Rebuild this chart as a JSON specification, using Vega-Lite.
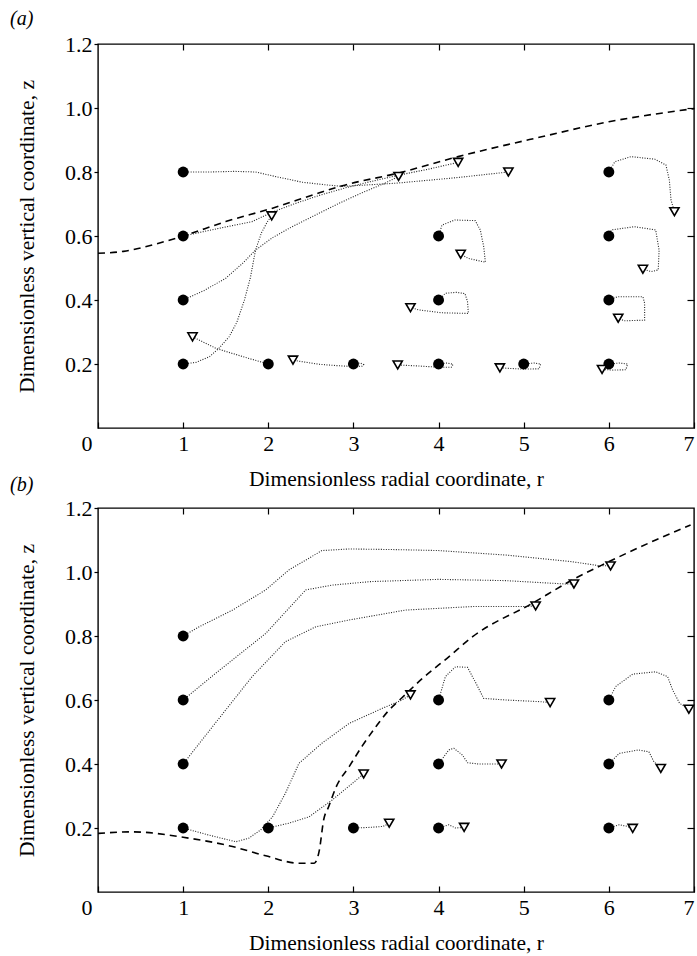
{
  "$schema": "https://vega.github.io/schema/vega-lite/v6.json",
  "padding": {"left": 9, "top": 8, "right": 0, "bottom": 0},
  "background": "white",
  "spacing": -17,
  "datasets": {
    "traj": [
      {"p":"a","id":"a1","i":0,"r":1,"z":0.8},{"p":"a","id":"a1","i":1,"r":1.3,"z":0.8},{"p":"a","id":"a1","i":2,"r":1.6,"z":0.802},{"p":"a","id":"a1","i":3,"r":1.85,"z":0.8},{"p":"a","id":"a1","i":4,"r":2.1,"z":0.785},{"p":"a","id":"a1","i":5,"r":2.4,"z":0.768},{"p":"a","id":"a1","i":6,"r":2.67,"z":0.76},{"p":"a","id":"a1","i":7,"r":2.87,"z":0.755},{"p":"a","id":"a1","i":8,"r":3.5,"z":0.765},{"p":"a","id":"a1","i":9,"r":4.2,"z":0.782},{"p":"a","id":"a1","i":10,"r":4.82,"z":0.8},
      {"p":"a","id":"a2","i":0,"r":1,"z":0.6},{"p":"a","id":"a2","i":1,"r":1.42,"z":0.624},{"p":"a","id":"a2","i":2,"r":1.81,"z":0.645},{"p":"a","id":"a2","i":3,"r":2.05,"z":0.675},{"p":"a","id":"a2","i":4,"r":2.3,"z":0.7},{"p":"a","id":"a2","i":5,"r":2.6,"z":0.727},{"p":"a","id":"a2","i":6,"r":2.9,"z":0.75},{"p":"a","id":"a2","i":7,"r":3.2,"z":0.77},{"p":"a","id":"a2","i":8,"r":3.53,"z":0.79},{"p":"a","id":"a2","i":9,"r":3.9,"z":0.81},{"p":"a","id":"a2","i":10,"r":4.23,"z":0.83},
      {"p":"a","id":"a3","i":0,"r":1,"z":0.4},{"p":"a","id":"a3","i":1,"r":1.25,"z":0.43},{"p":"a","id":"a3","i":2,"r":1.5,"z":0.468},{"p":"a","id":"a3","i":3,"r":1.7,"z":0.515},{"p":"a","id":"a3","i":4,"r":1.85,"z":0.556},{"p":"a","id":"a3","i":5,"r":2.05,"z":0.595},{"p":"a","id":"a3","i":6,"r":2.28,"z":0.629},{"p":"a","id":"a3","i":7,"r":2.55,"z":0.665},{"p":"a","id":"a3","i":8,"r":2.83,"z":0.702},{"p":"a","id":"a3","i":9,"r":3.1,"z":0.735},{"p":"a","id":"a3","i":10,"r":3.37,"z":0.765},{"p":"a","id":"a3","i":11,"r":3.53,"z":0.786},
      {"p":"a","id":"a4","i":0,"r":1,"z":0.2},{"p":"a","id":"a4","i":1,"r":1.15,"z":0.205},{"p":"a","id":"a4","i":2,"r":1.31,"z":0.223},{"p":"a","id":"a4","i":3,"r":1.42,"z":0.249},{"p":"a","id":"a4","i":4,"r":1.54,"z":0.285},{"p":"a","id":"a4","i":5,"r":1.63,"z":0.33},{"p":"a","id":"a4","i":6,"r":1.72,"z":0.4},{"p":"a","id":"a4","i":7,"r":1.79,"z":0.47},{"p":"a","id":"a4","i":8,"r":1.85,"z":0.556},{"p":"a","id":"a4","i":9,"r":1.92,"z":0.61},{"p":"a","id":"a4","i":10,"r":1.99,"z":0.645},{"p":"a","id":"a4","i":11,"r":2.04,"z":0.663},
      {"p":"a","id":"a5","i":0,"r":2,"z":0.2},{"p":"a","id":"a5","i":1,"r":1.7,"z":0.223},{"p":"a","id":"a5","i":2,"r":1.385,"z":0.249},{"p":"a","id":"a5","i":3,"r":1.11,"z":0.285},
      {"p":"a","id":"a6","i":0,"r":3,"z":0.2},{"p":"a","id":"a6","i":1,"r":3.08,"z":0.203},{"p":"a","id":"a6","i":2,"r":3.12,"z":0.198},{"p":"a","id":"a6","i":3,"r":3.1,"z":0.193},{"p":"a","id":"a6","i":4,"r":3.0,"z":0.192},{"p":"a","id":"a6","i":5,"r":2.8,"z":0.195},{"p":"a","id":"a6","i":6,"r":2.6,"z":0.199},{"p":"a","id":"a6","i":7,"r":2.45,"z":0.205},{"p":"a","id":"a6","i":8,"r":2.29,"z":0.212},
      {"p":"a","id":"a7","i":0,"r":4,"z":0.2},{"p":"a","id":"a7","i":1,"r":4.1,"z":0.203},{"p":"a","id":"a7","i":2,"r":4.17,"z":0.199},{"p":"a","id":"a7","i":3,"r":4.15,"z":0.19},{"p":"a","id":"a7","i":4,"r":4.0,"z":0.19},{"p":"a","id":"a7","i":5,"r":3.75,"z":0.194},{"p":"a","id":"a7","i":6,"r":3.52,"z":0.197},
      {"p":"a","id":"a8","i":0,"r":5,"z":0.2},{"p":"a","id":"a8","i":1,"r":5.12,"z":0.203},{"p":"a","id":"a8","i":2,"r":5.2,"z":0.2},{"p":"a","id":"a8","i":3,"r":5.18,"z":0.185},{"p":"a","id":"a8","i":4,"r":5.0,"z":0.184},{"p":"a","id":"a8","i":5,"r":4.85,"z":0.186},{"p":"a","id":"a8","i":6,"r":4.72,"z":0.188},
      {"p":"a","id":"a9","i":0,"r":6,"z":0.2},{"p":"a","id":"a9","i":1,"r":6.12,"z":0.203},{"p":"a","id":"a9","i":2,"r":6.22,"z":0.2},{"p":"a","id":"a9","i":3,"r":6.2,"z":0.182},{"p":"a","id":"a9","i":4,"r":6.05,"z":0.181},{"p":"a","id":"a9","i":5,"r":5.92,"z":0.183},
      {"p":"a","id":"a10","i":0,"r":4,"z":0.4},{"p":"a","id":"a10","i":1,"r":4.08,"z":0.421},{"p":"a","id":"a10","i":2,"r":4.21,"z":0.424},{"p":"a","id":"a10","i":3,"r":4.31,"z":0.42},{"p":"a","id":"a10","i":4,"r":4.34,"z":0.395},{"p":"a","id":"a10","i":5,"r":4.35,"z":0.358},{"p":"a","id":"a10","i":6,"r":4.2,"z":0.359},{"p":"a","id":"a10","i":7,"r":4.04,"z":0.36},{"p":"a","id":"a10","i":8,"r":3.77,"z":0.369},{"p":"a","id":"a10","i":9,"r":3.67,"z":0.376},
      {"p":"a","id":"a11","i":0,"r":6,"z":0.4},{"p":"a","id":"a11","i":1,"r":6.1,"z":0.41},{"p":"a","id":"a11","i":2,"r":6.25,"z":0.41},{"p":"a","id":"a11","i":3,"r":6.4,"z":0.41},{"p":"a","id":"a11","i":4,"r":6.42,"z":0.39},{"p":"a","id":"a11","i":5,"r":6.42,"z":0.337},{"p":"a","id":"a11","i":6,"r":6.18,"z":0.335},{"p":"a","id":"a11","i":7,"r":6.11,"z":0.343},
      {"p":"a","id":"a12","i":0,"r":4,"z":0.6},{"p":"a","id":"a12","i":1,"r":4.04,"z":0.634},{"p":"a","id":"a12","i":2,"r":4.19,"z":0.65},{"p":"a","id":"a12","i":3,"r":4.43,"z":0.648},{"p":"a","id":"a12","i":4,"r":4.49,"z":0.619},{"p":"a","id":"a12","i":5,"r":4.53,"z":0.567},{"p":"a","id":"a12","i":6,"r":4.55,"z":0.518},{"p":"a","id":"a12","i":7,"r":4.35,"z":0.53},{"p":"a","id":"a12","i":8,"r":4.26,"z":0.543},
      {"p":"a","id":"a13","i":0,"r":6,"z":0.6},{"p":"a","id":"a13","i":1,"r":6.03,"z":0.619},{"p":"a","id":"a13","i":2,"r":6.3,"z":0.629},{"p":"a","id":"a13","i":3,"r":6.55,"z":0.619},{"p":"a","id":"a13","i":4,"r":6.59,"z":0.556},{"p":"a","id":"a13","i":5,"r":6.58,"z":0.494},{"p":"a","id":"a13","i":6,"r":6.5,"z":0.489},{"p":"a","id":"a13","i":7,"r":6.4,"z":0.496},
      {"p":"a","id":"a14","i":0,"r":6,"z":0.8},{"p":"a","id":"a14","i":1,"r":6.07,"z":0.832},{"p":"a","id":"a14","i":2,"r":6.26,"z":0.848},{"p":"a","id":"a14","i":3,"r":6.54,"z":0.84},{"p":"a","id":"a14","i":4,"r":6.67,"z":0.822},{"p":"a","id":"a14","i":5,"r":6.71,"z":0.775},{"p":"a","id":"a14","i":6,"r":6.73,"z":0.7125},{"p":"a","id":"a14","i":7,"r":6.77,"z":0.676},
      {"p":"b","id":"b1","i":0,"r":1,"z":0.8},{"p":"b","id":"b1","i":1,"r":1.19,"z":0.829},{"p":"b","id":"b1","i":2,"r":1.58,"z":0.881},{"p":"b","id":"b1","i":3,"r":1.97,"z":0.944},{"p":"b","id":"b1","i":4,"r":2.24,"z":1.006},{"p":"b","id":"b1","i":5,"r":2.63,"z":1.067},{"p":"b","id":"b1","i":6,"r":2.95,"z":1.072},{"p":"b","id":"b1","i":7,"r":3.5,"z":1.07},{"p":"b","id":"b1","i":8,"r":4.0,"z":1.067},{"p":"b","id":"b1","i":9,"r":4.79,"z":1.053},{"p":"b","id":"b1","i":10,"r":5.57,"z":1.032},{"p":"b","id":"b1","i":11,"r":5.88,"z":1.02},{"p":"b","id":"b1","i":12,"r":6.02,"z":1.019},
      {"p":"b","id":"b2","i":0,"r":1,"z":0.6},{"p":"b","id":"b2","i":1,"r":1.38,"z":0.683},{"p":"b","id":"b2","i":2,"r":1.97,"z":0.808},{"p":"b","id":"b2","i":3,"r":2.44,"z":0.944},{"p":"b","id":"b2","i":4,"r":2.75,"z":0.959},{"p":"b","id":"b2","i":5,"r":3.2,"z":0.97},{"p":"b","id":"b2","i":6,"r":4.0,"z":0.977},{"p":"b","id":"b2","i":7,"r":4.79,"z":0.973},{"p":"b","id":"b2","i":8,"r":5.49,"z":0.9625},{"p":"b","id":"b2","i":9,"r":5.59,"z":0.9625},
      {"p":"b","id":"b3","i":0,"r":1,"z":0.4},{"p":"b","id":"b3","i":1,"r":1.42,"z":0.542},{"p":"b","id":"b3","i":2,"r":1.81,"z":0.673},{"p":"b","id":"b3","i":3,"r":2.2,"z":0.782},{"p":"b","id":"b3","i":4,"r":2.56,"z":0.829},{"p":"b","id":"b3","i":5,"r":2.95,"z":0.85},{"p":"b","id":"b3","i":6,"r":3.61,"z":0.881},{"p":"b","id":"b3","i":7,"r":4.4,"z":0.892},{"p":"b","id":"b3","i":8,"r":5.02,"z":0.892},{"p":"b","id":"b3","i":9,"r":5.14,"z":0.894},
      {"p":"b","id":"b4","i":0,"r":1,"z":0.2},{"p":"b","id":"b4","i":1,"r":1.3,"z":0.178},{"p":"b","id":"b4","i":2,"r":1.62,"z":0.157},{"p":"b","id":"b4","i":3,"r":1.77,"z":0.168},{"p":"b","id":"b4","i":4,"r":1.91,"z":0.194},{"p":"b","id":"b4","i":5,"r":2.05,"z":0.235},{"p":"b","id":"b4","i":6,"r":2.2,"z":0.308},{"p":"b","id":"b4","i":7,"r":2.36,"z":0.402},{"p":"b","id":"b4","i":8,"r":2.63,"z":0.465},{"p":"b","id":"b4","i":9,"r":2.95,"z":0.527},{"p":"b","id":"b4","i":10,"r":3.34,"z":0.574},{"p":"b","id":"b4","i":11,"r":3.57,"z":0.6},{"p":"b","id":"b4","i":12,"r":3.67,"z":0.616},
      {"p":"b","id":"b5","i":0,"r":2,"z":0.2},{"p":"b","id":"b5","i":1,"r":2.24,"z":0.215},{"p":"b","id":"b5","i":2,"r":2.48,"z":0.235},{"p":"b","id":"b5","i":3,"r":2.75,"z":0.2875},{"p":"b","id":"b5","i":4,"r":2.99,"z":0.34},{"p":"b","id":"b5","i":5,"r":3.12,"z":0.369},
      {"p":"b","id":"b6","i":0,"r":3,"z":0.2},{"p":"b","id":"b6","i":1,"r":3.2,"z":0.202},{"p":"b","id":"b6","i":2,"r":3.35,"z":0.205},{"p":"b","id":"b6","i":3,"r":3.42,"z":0.215},
      {"p":"b","id":"b7","i":0,"r":4,"z":0.2},{"p":"b","id":"b7","i":1,"r":4.12,"z":0.21},{"p":"b","id":"b7","i":2,"r":4.2,"z":0.2},{"p":"b","id":"b7","i":3,"r":4.3,"z":0.202},
      {"p":"b","id":"b8","i":0,"r":6,"z":0.2},{"p":"b","id":"b8","i":1,"r":6.12,"z":0.21},{"p":"b","id":"b8","i":2,"r":6.2,"z":0.206},{"p":"b","id":"b8","i":3,"r":6.28,"z":0.199},
      {"p":"b","id":"b9","i":0,"r":4,"z":0.4},{"p":"b","id":"b9","i":1,"r":4.12,"z":0.444},{"p":"b","id":"b9","i":2,"r":4.18,"z":0.449},{"p":"b","id":"b9","i":3,"r":4.28,"z":0.428},{"p":"b","id":"b9","i":4,"r":4.34,"z":0.404},{"p":"b","id":"b9","i":5,"r":4.47,"z":0.4},{"p":"b","id":"b9","i":6,"r":4.74,"z":0.4},
      {"p":"b","id":"b10","i":0,"r":6,"z":0.4},{"p":"b","id":"b10","i":1,"r":6.12,"z":0.433},{"p":"b","id":"b10","i":2,"r":6.35,"z":0.444},{"p":"b","id":"b10","i":3,"r":6.47,"z":0.438},{"p":"b","id":"b10","i":4,"r":6.53,"z":0.407},{"p":"b","id":"b10","i":5,"r":6.61,"z":0.386},
      {"p":"b","id":"b11","i":0,"r":4,"z":0.6},{"p":"b","id":"b11","i":1,"r":4.08,"z":0.673},{"p":"b","id":"b11","i":2,"r":4.2,"z":0.704},{"p":"b","id":"b11","i":3,"r":4.34,"z":0.702},{"p":"b","id":"b11","i":4,"r":4.44,"z":0.652},{"p":"b","id":"b11","i":5,"r":4.53,"z":0.605},{"p":"b","id":"b11","i":6,"r":4.79,"z":0.6},{"p":"b","id":"b11","i":7,"r":5.18,"z":0.595},{"p":"b","id":"b11","i":8,"r":5.31,"z":0.592},
      {"p":"b","id":"b12","i":0,"r":6,"z":0.6},{"p":"b","id":"b12","i":1,"r":6.08,"z":0.642},{"p":"b","id":"b12","i":2,"r":6.28,"z":0.681},{"p":"b","id":"b12","i":3,"r":6.55,"z":0.688},{"p":"b","id":"b12","i":4,"r":6.69,"z":0.673},{"p":"b","id":"b12","i":5,"r":6.75,"z":0.631},{"p":"b","id":"b12","i":6,"r":6.83,"z":0.59},{"p":"b","id":"b12","i":7,"r":6.94,"z":0.571}
    ],
    "starts": [
      {"p":"a","r":1,"z":0.2},{"p":"a","r":1,"z":0.4},{"p":"a","r":1,"z":0.6},{"p":"a","r":1,"z":0.8},{"p":"a","r":2,"z":0.2},{"p":"a","r":3,"z":0.2},{"p":"a","r":4,"z":0.2},{"p":"a","r":5,"z":0.2},{"p":"a","r":6,"z":0.2},{"p":"a","r":4,"z":0.4},{"p":"a","r":6,"z":0.4},{"p":"a","r":4,"z":0.6},{"p":"a","r":6,"z":0.6},{"p":"a","r":6,"z":0.8},
      {"p":"b","r":1,"z":0.8},{"p":"b","r":1,"z":0.6},{"p":"b","r":1,"z":0.4},{"p":"b","r":1,"z":0.2},{"p":"b","r":2,"z":0.2},{"p":"b","r":3,"z":0.2},{"p":"b","r":4,"z":0.2},{"p":"b","r":6,"z":0.2},{"p":"b","r":4,"z":0.4},{"p":"b","r":6,"z":0.4},{"p":"b","r":4,"z":0.6},{"p":"b","r":6,"z":0.6}
    ],
    "ends": [
      {"p":"a","r":4.82,"z":0.8},{"p":"a","r":4.23,"z":0.83},{"p":"a","r":3.53,"z":0.786},{"p":"a","r":2.04,"z":0.663},{"p":"a","r":1.11,"z":0.285},{"p":"a","r":2.29,"z":0.212},{"p":"a","r":3.52,"z":0.197},{"p":"a","r":4.72,"z":0.188},{"p":"a","r":5.92,"z":0.183},{"p":"a","r":3.67,"z":0.376},{"p":"a","r":6.11,"z":0.343},{"p":"a","r":4.26,"z":0.543},{"p":"a","r":6.4,"z":0.496},{"p":"a","r":6.77,"z":0.676},
      {"p":"b","r":6.02,"z":1.019},{"p":"b","r":5.59,"z":0.9625},{"p":"b","r":5.14,"z":0.894},{"p":"b","r":3.67,"z":0.616},{"p":"b","r":3.12,"z":0.369},{"p":"b","r":3.42,"z":0.215},{"p":"b","r":4.3,"z":0.202},{"p":"b","r":6.28,"z":0.199},{"p":"b","r":4.74,"z":0.4},{"p":"b","r":6.61,"z":0.386},{"p":"b","r":5.31,"z":0.592},{"p":"b","r":6.94,"z":0.571}
    ],
    "dash": [
      {"p":"a","r":0,"z":0.546},{"p":"a","r":0.3,"z":0.552},{"p":"a","r":0.68,"z":0.575},{"p":"a","r":1,"z":0.6},{"p":"a","r":1.5,"z":0.645},{"p":"a","r":2.05,"z":0.687},{"p":"a","r":2.6,"z":0.735},{"p":"a","r":2.87,"z":0.757},{"p":"a","r":3.53,"z":0.797},{"p":"a","r":4.23,"z":0.848},{"p":"a","r":5.21,"z":0.91},{"p":"a","r":6,"z":0.957},{"p":"a","r":7,"z":0.998},
      {"p":"b","r":0,"z":0.183},{"p":"b","r":0.4,"z":0.188},{"p":"b","r":1.0,"z":0.171},{"p":"b","r":1.58,"z":0.142},{"p":"b","r":1.97,"z":0.113},{"p":"b","r":2.36,"z":0.09},{"p":"b","r":2.54,"z":0.09},{"p":"b","r":2.6,"z":0.131},{"p":"b","r":2.65,"z":0.225},{"p":"b","r":2.71,"z":0.267},{"p":"b","r":2.8,"z":0.33},{"p":"b","r":2.95,"z":0.392},{"p":"b","r":3.1,"z":0.455},{"p":"b","r":3.26,"z":0.515},{"p":"b","r":3.4,"z":0.563},{"p":"b","r":3.57,"z":0.607},{"p":"b","r":3.8,"z":0.665},{"p":"b","r":4.12,"z":0.735},{"p":"b","r":4.4,"z":0.798},{"p":"b","r":5.1,"z":0.902},{"p":"b","r":5.57,"z":0.975},{"p":"b","r":5.96,"z":1.027},{"p":"b","r":6.55,"z":1.1},{"p":"b","r":6.96,"z":1.147}
    ]
  },
  "vconcat": [
    {
      "width": 596, "height": 384,
      "title": {"text": "(a)", "anchor": "start", "frame": "group", "dx": -88, "offset": 4, "fontSize": 20, "font": "Liberation Serif", "fontStyle": "italic", "fontWeight": "normal", "color": "black"},
      "resolve": {"axis": {"x": "independent", "y": "independent"}},
      "layer": [
        {"data": {"name": "traj"}, "transform": [{"filter": "datum.p === 'a'"}],
         "mark": {"type": "line", "color": "#222", "strokeWidth": 1.1, "strokeDash": [1, 1.5]},
         "encoding": {
           "x": {"field": "r", "type": "quantitative", "scale": {"domain": [0, 7], "nice": false, "zero": false},
                 "axis": {"orient": "bottom", "values": [0,1,2,3,4,5,6,7], "tickSize": -6, "labelPadding": 11, "labelFlush": false,
                          "labelAlign": {"condition": {"test": "datum.value === 0 || datum.value === 7", "value": "right"}, "value": "center"},
                          "labelOffset": {"condition": {"test": "datum.value === 0", "value": -6}, "value": 0},
                          "title": "Dimensionless radial coordinate, r", "titlePadding": 14}},
           "y": {"field": "z", "type": "quantitative", "scale": {"domain": [0, 1.2], "nice": false, "zero": false},
                 "axis": {"orient": "left", "values": [0.2,0.4,0.6,0.8,1.0,1.2], "format": ".1f", "tickSize": 4, "labelPadding": 2, "title": "Dimensionless vertical coordinate, z", "titlePadding": 26}},
           "detail": {"field": "id"},
           "order": {"field": "i", "type": "quantitative"}
         }},
        {"data": {"name": "dash"}, "transform": [{"filter": "datum.p === 'a'"}],
         "mark": {"type": "line", "color": "black", "strokeWidth": 1.6, "strokeDash": [7, 5], "interpolate": "monotone"},
         "encoding": {
           "x": {"field": "r", "type": "quantitative", "scale": {"domain": [0, 7], "nice": false, "zero": false}, "axis": null},
           "y": {"field": "z", "type": "quantitative", "scale": {"domain": [0, 1.2], "nice": false, "zero": false}, "axis": null}
         }},
        {"mark": {"type": "rule", "color": "black", "strokeWidth": 1.4},
         "encoding": {"y": {"datum": 1, "type": "quantitative", "scale": {"domain": [0, 1.2], "nice": false, "zero": false}, "axis": null}}},
        {"data": {"name": "starts"}, "transform": [{"filter": "datum.p === 'a'"}],
         "mark": {"type": "point", "shape": "circle", "filled": true, "color": "black", "size": 120, "opacity": 1},
         "encoding": {
           "x": {"field": "r", "type": "quantitative", "scale": {"domain": [0, 7], "nice": false, "zero": false},
                 "axis": {"orient": "top", "values": [1,2,3,4,5,6], "labels": false, "tickSize": -6, "title": null}},
           "y": {"field": "z", "type": "quantitative", "scale": {"domain": [0, 1.2], "nice": false, "zero": false},
                 "axis": {"orient": "right", "values": [0.2,0.4,0.6,0.8,1.0], "labels": false, "tickSize": -7, "title": null}}
         }},
        {"data": {"name": "ends"}, "transform": [{"filter": "datum.p === 'a'"}],
         "mark": {"type": "point", "shape": "triangle-down", "filled": true, "fill": "white", "stroke": "black", "strokeWidth": 1.6, "size": 85, "opacity": 1},
         "encoding": {
           "x": {"field": "r", "type": "quantitative", "scale": {"domain": [0, 7], "nice": false, "zero": false}, "axis": null},
           "y": {"field": "z", "type": "quantitative", "scale": {"domain": [0, 1.2], "nice": false, "zero": false}, "axis": null}
         }}
      ]
    },
    {
      "width": 596, "height": 384,
      "title": {"text": "(b)", "anchor": "start", "frame": "group", "dx": -88, "offset": 2, "fontSize": 20, "font": "Liberation Serif", "fontStyle": "italic", "fontWeight": "normal", "color": "black"},
      "resolve": {"axis": {"x": "independent", "y": "independent"}},
      "layer": [
        {"data": {"name": "traj"}, "transform": [{"filter": "datum.p === 'b'"}],
         "mark": {"type": "line", "color": "#222", "strokeWidth": 1.1, "strokeDash": [1, 1.5]},
         "encoding": {
           "x": {"field": "r", "type": "quantitative", "scale": {"domain": [0, 7], "nice": false, "zero": false},
                 "axis": {"orient": "bottom", "values": [0,1,2,3,4,5,6,7], "tickSize": -6, "labelPadding": 11, "labelFlush": false,
                          "labelAlign": {"condition": {"test": "datum.value === 0 || datum.value === 7", "value": "right"}, "value": "center"},
                          "labelOffset": {"condition": {"test": "datum.value === 0", "value": -6}, "value": 0},
                          "title": "Dimensionless radial coordinate, r", "titlePadding": 14}},
           "y": {"field": "z", "type": "quantitative", "scale": {"domain": [0, 1.2], "nice": false, "zero": false},
                 "axis": {"orient": "left", "values": [0.2,0.4,0.6,0.8,1.0,1.2], "format": ".1f", "tickSize": 4, "labelPadding": 2, "title": "Dimensionless vertical coordinate, z", "titlePadding": 26}},
           "detail": {"field": "id"},
           "order": {"field": "i", "type": "quantitative"}
         }},
        {"data": {"name": "dash"}, "transform": [{"filter": "datum.p === 'b'"}],
         "mark": {"type": "line", "color": "black", "strokeWidth": 1.6, "strokeDash": [7, 5], "interpolate": "monotone"},
         "encoding": {
           "x": {"field": "r", "type": "quantitative", "scale": {"domain": [0, 7], "nice": false, "zero": false}, "axis": null},
           "y": {"field": "z", "type": "quantitative", "scale": {"domain": [0, 1.2], "nice": false, "zero": false}, "axis": null}
         }},
        {"mark": {"type": "rule", "color": "black", "strokeWidth": 1.4},
         "encoding": {"y": {"datum": 1, "type": "quantitative", "scale": {"domain": [0, 1.2], "nice": false, "zero": false}, "axis": null}}},
        {"data": {"name": "starts"}, "transform": [{"filter": "datum.p === 'b'"}],
         "mark": {"type": "point", "shape": "circle", "filled": true, "color": "black", "size": 120, "opacity": 1},
         "encoding": {
           "x": {"field": "r", "type": "quantitative", "scale": {"domain": [0, 7], "nice": false, "zero": false},
                 "axis": {"orient": "top", "values": [1,2,3,4,5,6], "labels": false, "tickSize": -6, "title": null}},
           "y": {"field": "z", "type": "quantitative", "scale": {"domain": [0, 1.2], "nice": false, "zero": false},
                 "axis": {"orient": "right", "values": [0.2,0.4,0.6,0.8,1.0], "labels": false, "tickSize": -7, "title": null}}
         }},
        {"data": {"name": "ends"}, "transform": [{"filter": "datum.p === 'b'"}],
         "mark": {"type": "point", "shape": "triangle-down", "filled": true, "fill": "white", "stroke": "black", "strokeWidth": 1.6, "size": 85, "opacity": 1},
         "encoding": {
           "x": {"field": "r", "type": "quantitative", "scale": {"domain": [0, 7], "nice": false, "zero": false}, "axis": null},
           "y": {"field": "z", "type": "quantitative", "scale": {"domain": [0, 1.2], "nice": false, "zero": false}, "axis": null}
         }}
      ]
    }
  ],
  "config": {
    "font": "Liberation Serif",
    "view": {"stroke": "black", "strokeWidth": 1.4},
    "axis": {"grid": false, "domain": false, "tickColor": "black", "tickWidth": 1.2, "labelColor": "black", "titleColor": "black", "labelFont": "Liberation Serif", "titleFont": "Liberation Serif", "labelFontSize": 22, "titleFontSize": 21.5, "titleFontWeight": "normal"}
  }
}
